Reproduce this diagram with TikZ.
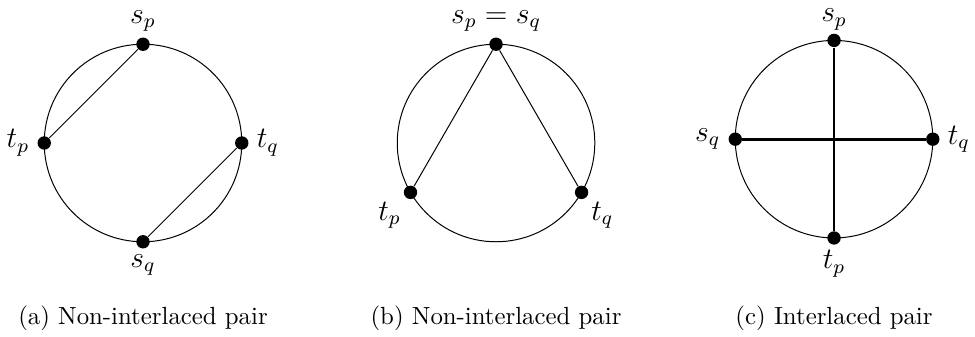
\documentclass[tikz,border=0pt]{standalone}
\usetikzlibrary{positioning}

\begin{document}
\begin{tikzpicture}[
  ring/.style={draw, circle, minimum size=2.8cm, inner sep=0pt, outer sep=0pt, line width=0.4pt},
  vtx/.style={circle, fill, inner sep=0pt, minimum size=5.4pt},
  chord/.style={line width=0.4pt},
  heavy chord/.style={line width=1.1pt},
  lbl/.style={font=\large, inner sep=1pt},
  subcap/.style={anchor=base}
]
\useasboundingbox (0,0) rectangle (13.82,4.763);

% (a) non-interlaced, disjoint chords
\node[ring] (ra) at (2.027,2.736) {};
\node[vtx, label={[lbl, label distance=1pt]above:$s_p$}] (a-sp) at (ra.90) {};
\node[vtx, label={[lbl, label distance=1pt]below:$s_q$}] (a-sq) at (ra.270) {};
\node[vtx, label={[lbl, label distance=2pt]left:$t_p$}] (a-tp) at (ra.180) {};
\node[vtx, label={[lbl, label distance=2pt]right:$t_q$}] (a-tq) at (ra.0) {};
\draw[chord] (a-sp) -- (a-tp);
\draw[chord] (a-tq) -- (a-sq);
\node[subcap] (cap-a) at (2.027,0.17) {(a) Non-interlaced pair};

% (b) non-interlaced, shared source
\node[ring] (rb) at (7.031,2.736) {};
\node[vtx, label={[lbl, label distance=1pt]above:$s_p=s_q$}] (b-s) at (rb.90) {};
\node[vtx, label={[lbl, label distance=1pt]below left:$t_p$}] (b-tp) at (rb.210) {};
\node[vtx, label={[lbl, label distance=1pt]below right:$t_q$}] (b-tq) at (rb.330) {};
\draw[chord] (b-s) -- (b-tp);
\draw[chord] (b-s) -- (b-tq);
\node[subcap] (cap-b) at (7.031,0.17) {(b) Non-interlaced pair};

% (c) interlaced, crossing chords
\node[ring] (rc) at (11.822,2.79) {};
\node[vtx, label={[lbl, label distance=0pt]above:$s_p$}] (c-sp) at (rc.90) {};
\node[vtx, label={[lbl, label distance=1pt]below:$t_p$}] (c-tp) at (rc.270) {};
\node[vtx, label={[lbl, label distance=2pt]left:$s_q$}] (c-sq) at (rc.180) {};
\node[vtx, label={[lbl, label distance=2pt]right:$t_q$}] (c-tq) at (rc.0) {};
\draw[heavy chord] (c-sp) -- (c-tp);
\draw[heavy chord] (c-sq) -- (c-tq);
\node[subcap] (cap-c) at (11.822,0.17) {(c) Interlaced pair};
\end{tikzpicture}
\end{document}
